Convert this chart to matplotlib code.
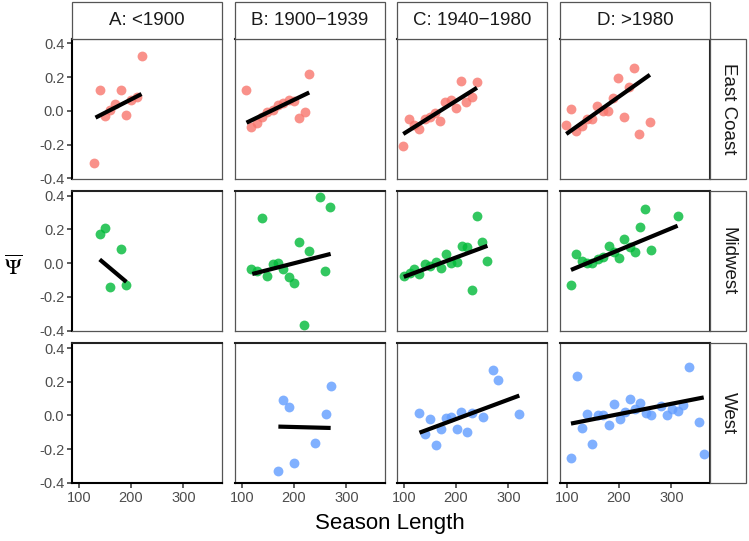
import numpy as np
import matplotlib
matplotlib.use("Agg")
from matplotlib import pyplot as plt
from matplotlib.patches import Rectangle

plt.rcParams['font.family'] = ['Liberation Sans', 'DejaVu Sans']
plt.rcParams['mathtext.fontset'] = 'stix'

eras = ['A: <1900', 'B: 1900\u22121939', 'C: 1940\u22121980', 'D: >1980']
regions = ['East Coast', 'Midwest', 'West']
colors = ['#F8766D', '#00BA38', '#619CFF']

# season length (x) and psi-bar (y) per era, one list per region
east_x = [[129, 140, 151, 160, 170, 180, 191, 200, 211, 220],
          [109, 118, 129, 139, 148, 160, 169, 179, 190, 199, 210, 220, 229],
          [99, 110, 120, 130, 140, 150, 160, 170, 179, 190, 200, 210, 219, 230, 240],
          [98, 108, 118, 129, 139, 148, 158, 169, 179, 188, 198, 209, 219, 228, 239, 259]]
east_y = [[-0.311, 0.123, -0.028, 0.004, 0.042, 0.123, -0.022, 0.064, 0.083, 0.326],
          [0.125, -0.093, -0.070, -0.038, -0.004, 0.006, 0.036, 0.049, 0.065, 0.061, -0.043, -0.004, 0.220],
          [-0.208, -0.049, -0.083, -0.105, -0.048, -0.038, -0.010, -0.061, 0.055, 0.065, 0.020, 0.179, 0.055, 0.082, 0.171],
          [-0.085, 0.012, -0.119, -0.089, -0.049, -0.049, 0.026, 0.002, 0.000, 0.076, 0.195, -0.034, 0.139, 0.254, -0.135, -0.064]]

mid_x = [[140, 151, 160, 180, 191],
         [118, 129, 139, 149, 160, 169, 179, 190, 200, 210, 219, 229, 250, 259, 269],
         [100, 111, 120, 130, 141, 150, 161, 171, 181, 190, 201, 211, 220, 231, 240, 250, 260],
         [108, 118, 129, 139, 149, 160, 170, 180, 190, 199, 210, 220, 230, 240, 250, 261, 312]]
mid_y = [[0.174, 0.210, -0.143, 0.083, -0.127],
         [-0.032, -0.044, 0.266, -0.079, -0.006, 0.004, -0.032, -0.083, -0.115, 0.125, -0.369, 0.075, 0.393, -0.044, 0.331],
         [-0.075, -0.058, -0.032, -0.065, -0.002, -0.018, 0.008, -0.026, 0.055, 0.004, 0.008, 0.103, 0.097, -0.161, 0.278, 0.127, 0.014],
         [-0.131, 0.054, 0.012, 0.004, 0.004, 0.024, 0.038, 0.101, 0.064, 0.028, 0.141, 0.097, 0.067, 0.216, 0.321, 0.077, 0.278]]

west_x = [[],
          [170, 179, 190, 200, 240, 261, 270],
          [130, 140, 150, 161, 171, 180, 190, 201, 210, 220, 231, 251, 271, 280, 321],
          [108, 119, 129, 139, 149, 160, 170, 180, 190, 201, 211, 221, 231, 241, 251, 262,
           281, 292, 302, 312, 322, 333, 353, 362]]
west_y = [[],
          [-0.332, 0.091, 0.049, -0.282, -0.161, 0.011, 0.172],
          [0.014, -0.111, -0.020, -0.175, -0.082, -0.016, -0.007, -0.078, 0.023, -0.099, 0.014, -0.010, 0.270, 0.210, 0.008],
          [-0.252, 0.234, -0.076, 0.008, -0.167, 0.002, 0.002, -0.054, 0.071, -0.022, 0.023, 0.099, 0.038, 0.073,
           0.014, 0.000, 0.057, 0.002, 0.038, 0.029, 0.061, 0.288, -0.040, -0.228]]

# fitted line ends (x0, x1, y0, y1)
east_fit = [[132, 220, -0.040, 0.100], [109, 229, -0.070, 0.109],
            [99, 240, -0.137, 0.137], [99, 259, -0.137, 0.214]]
mid_fit = [[140, 191, 0.022, -0.111], [120, 270, -0.064, 0.055],
           [100, 260, -0.081, 0.103], [108, 312, -0.040, 0.222]]
west_fit = [None, [170, 270, -0.066, -0.074],
            [130, 321, -0.102, 0.118], [108, 362, -0.048, 0.107]]

all_x = [east_x, mid_x, west_x]
all_y = [east_y, mid_y, west_y]
all_fit = [east_fit, mid_fit, west_fit]

W, H = 749, 541
fig = plt.figure(figsize=(W / 100, H / 100), dpi=100)

col_left = [72, 235, 397, 560]
row_top = [38.7, 191, 343.3]
pw, ph = 150, 139.8
grey = '#4D4D4D'

def box(x, y, w, h):
    return [x / W, 1 - (y + h) / H, w / W, h / H]

for r in range(3):
    for c in range(4):
        ax = fig.add_axes(box(col_left[c], row_top[r], pw, ph))
        xs, ys = all_x[r][c], all_y[r][c]
        if len(xs):
            ax.scatter(xs, ys, s=50, color=colors[r], alpha=0.8, linewidths=0, zorder=2)
        fit = all_fit[r][c]
        if fit is not None:
            ax.plot(fit[:2], fit[2:], color='black', lw=3.0, solid_capstyle='butt', zorder=3)
        ax.set_xlim(87, 374)
        ax.set_ylim(-0.401, 0.428)
        ax.set_xticks([100, 200, 300])
        ax.set_yticks([-0.4, -0.2, 0.0, 0.2, 0.4])
        ax.set_yticklabels(['-0.4', '-0.2', '0.0', '0.2', '0.4'])
        for s in ax.spines.values():
            s.set_color('#555555')
            s.set_linewidth(0.9)
        ax.spines['top'].set_color('#222222')
        ax.spines['top'].set_linewidth(1.5)
        ax.tick_params(colors=grey, labelcolor=grey, labelsize=10.5, length=3.5, width=1.1)
        ax.tick_params(axis='x', pad=2)
        ax.tick_params(axis='y', pad=2)
        if c == 0:
            ax.spines['left'].set_color('black')
            ax.spines['left'].set_linewidth(1.5)
            ax.tick_params(axis='y', colors='#333333', labelcolor=grey)
        else:
            ax.tick_params(axis='y', left=False, labelleft=False)
        if c == 3:
            ax.spines['right'].set_color('#222222')
            ax.spines['right'].set_linewidth(1.5)
        if r == 2:
            ax.spines['bottom'].set_color('black')
            ax.spines['bottom'].set_linewidth(1.5)
            ax.tick_params(axis='x', colors='#333333', labelcolor=grey)
        else:
            ax.tick_params(axis='x', bottom=False, labelbottom=False)

# top strips
for c in range(4):
    x0 = col_left[c]
    fig.patches.append(Rectangle((x0 / W, 1 - 38.7 / H), pw / W, 36.5 / H,
                                 transform=fig.transFigure, facecolor='white',
                                 edgecolor='#555555', lw=0.9))
    fig.text((x0 + pw / 2) / W, 1 - 20.5 / H, eras[c], ha='center', va='center',
             fontsize=13.5, color='#1A1A1A')

# right strips
for r in range(3):
    y0 = row_top[r]
    fig.patches.append(Rectangle((710 / W, 1 - (y0 + ph) / H), 36 / W, ph / H,
                                 transform=fig.transFigure, facecolor='white',
                                 edgecolor='#555555', lw=0.9))
    fig.text(728 / W, 1 - (y0 + ph / 2) / H, regions[r], ha='center', va='center',
             rotation=-90, fontsize=13.5, color='#1A1A1A')

fig.text(390 / W, 1 - 524 / H, 'Season Length', ha='center', va='center', fontsize=16)
fig.text(13 / W, 1 - 268 / H, r'$\overline{\Psi}$', ha='center', va='center', fontsize=16)

fig.savefig('out.png', dpi=100)
